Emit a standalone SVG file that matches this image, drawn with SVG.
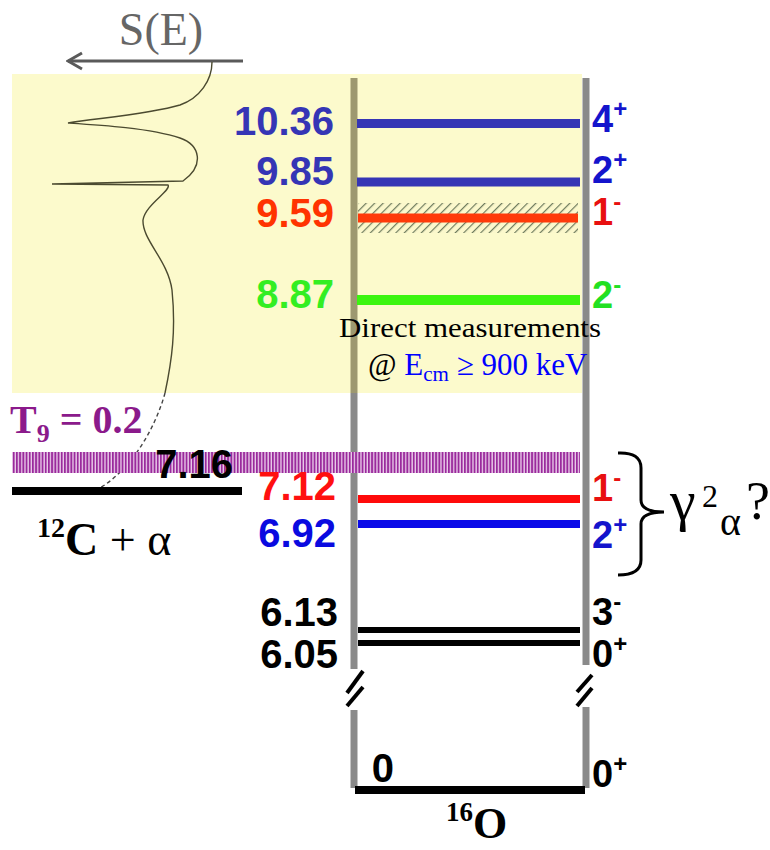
<svg xmlns="http://www.w3.org/2000/svg" width="770" height="850" viewBox="0 0 770 850">
<style>
.num{font-family:"Liberation Sans",Arial,sans-serif;font-weight:bold;font-size:40px;text-anchor:end}
.spin{font-family:"Liberation Sans",Arial,sans-serif;font-weight:bold;font-size:38px}
.sup{font-size:24px}
.serif{font-family:"Liberation Serif","Times New Roman",serif}
.vline{stroke:#8a8a8a;stroke-width:7;fill:none}
.brk{stroke:#000;stroke-width:4;fill:none}
</style>
<defs>
<pattern id="hatch" patternUnits="userSpaceOnUse" width="6" height="6" patternTransform="rotate(45)">
<rect width="6" height="6" fill="#fbf8cc"/>
<line x1="0" y1="0" x2="0" y2="6" stroke="#6f7c5e" stroke-width="2.4"/>
</pattern>
<pattern id="vstripe" patternUnits="userSpaceOnUse" width="3.2" height="10">
<rect width="3.2" height="10" fill="#ecd0ec"/>
<rect width="1.9" height="10" fill="#9a2a9c"/>
</pattern>
<marker id="chev" markerWidth="20" markerHeight="20" refX="18" refY="10" orient="auto" markerUnits="userSpaceOnUse">
<path d="M4,2 L18,10 L4,18" fill="none" stroke="#5a5a5a" stroke-width="3"/>
</marker>
</defs>
<rect width="770" height="850" fill="#fff"/>
<g id="yellow-region">
<rect x="12" y="74" width="570" height="319" fill="#fcfacc"/>
</g>
<g id="se-axis">
<text class="serif" x="161" y="45" font-size="46" fill="#666" text-anchor="middle">S(E)</text>
<line x1="243" y1="61" x2="68" y2="61" stroke="#5a5a5a" stroke-width="3" marker-end="url(#chev)"/>
<path d="M212,62 C212,80 200,98 180,105 C150,114 100,118 68,123 C100,125 150,128 180,138 C200,145 205,165 183,181 L52,184 L168,185 C172,190 145,205 143,220 C142,240 168,260 172,290 C176,330 172,360 165,393" fill="none" stroke="#4b4a30" stroke-width="1.4"/>
<path d="M165,393 C155,430 130,470 100,488" fill="none" stroke="#444" stroke-width="1.4" stroke-dasharray="4,3"/>
</g>
<g id="axes">
<line x1="354" y1="78" x2="354" y2="393" stroke="#9d9870" stroke-width="7"/>
<line class="vline" x1="354" y1="393" x2="354" y2="669"/>
<line class="vline" x1="354" y1="710" x2="354" y2="788"/>
<line class="vline" x1="586" y1="78" x2="586" y2="665"/>
<line class="vline" x1="586" y1="707" x2="586" y2="788"/>
<line class="brk" x1="347" y1="693" x2="363" y2="671"/>
<line class="brk" x1="347" y1="706" x2="363" y2="687"/>
<line class="brk" x1="577" y1="692" x2="592" y2="675"/>
<line class="brk" x1="577" y1="706" x2="592" y2="688"/>
</g>
<g id="level-1036">
<rect x="357" y="119" width="223" height="9" fill="#3535b5"/>
<text class="num" x="334" y="135" fill="#3535b5">10.36</text>
<text class="spin" x="592" y="132" fill="#1414cc">4<tspan class="sup" dy="-15">+</tspan></text>
</g>
<g id="level-985">
<rect x="357" y="177.5" width="223" height="9" fill="#3535b5"/>
<text class="num" x="334" y="185" fill="#3535b5">9.85</text>
<text class="spin" x="592" y="183" fill="#1414cc">2<tspan class="sup" dy="-15">+</tspan></text>
</g>
<g id="level-959">
<rect x="358" y="203" width="220" height="30" fill="url(#hatch)"/>
<rect x="358" y="213.5" width="220" height="9" fill="#ff3a0a"/>
<text class="num" x="334" y="227" fill="#ff3300">9.59</text>
<text class="spin" x="592" y="225" fill="#e81010">1<tspan class="sup" dy="-15">-</tspan></text>
</g>
<g id="level-887">
<rect x="357" y="295" width="223" height="10" fill="#3cf510"/>
<text class="num" x="334" y="308" fill="#33ee22">8.87</text>
<text class="spin" x="592" y="308" fill="#22e022">2<tspan class="sup" dy="-15">-</tspan></text>
</g>
<g id="direct-label">
<text class="serif" x="470" y="337" font-size="28" fill="#000" text-anchor="middle" textLength="262" lengthAdjust="spacingAndGlyphs">Direct measurements</text>
<text class="serif" x="368" y="375" font-size="31" fill="#000">@ <tspan fill="#0000ff">E<tspan font-size="21" dy="6">cm</tspan><tspan dy="-6"> ≥ 900 keV</tspan></tspan></text>
</g>
<g id="t9-band">
<text class="serif" x="10" y="433" font-size="40" font-weight="bold" fill="#8b1a8b">T<tspan font-size="26" dy="9">9</tspan><tspan dy="-9"> = 0.2</tspan></text>
<rect x="12" y="452" width="568" height="21" fill="url(#vstripe)"/>
</g>
<g id="threshold">
<rect x="12" y="487" width="230" height="8" fill="#000"/>
<text class="num" x="233" y="478" fill="#000">7.16</text>
<text class="serif" x="37" y="555" font-size="46" fill="#000"><tspan font-weight="bold" font-size="28" dy="-18">12</tspan><tspan font-weight="bold" dy="18">C</tspan> + α</text>
</g>
<g id="level-712">
<rect x="358" y="495" width="222" height="8" fill="#ff0a0a"/>
<text class="num" x="336" y="500" fill="#ff1010">7.12</text>
<text class="spin" x="592" y="501" fill="#e81010">1<tspan class="sup" dy="-15">-</tspan></text>
</g>
<g id="level-692">
<rect x="358" y="520" width="222" height="8" fill="#0a0ae8"/>
<text class="num" x="336" y="547" fill="#0a0ae0">6.92</text>
<text class="spin" x="592" y="548" fill="#1414cc">2<tspan class="sup" dy="-15">+</tspan></text>
</g>
<g id="gamma-brace">
<path d="M618,453 Q641,452 641,468 L641,500 Q641,512 664,512 Q641,512 641,524 L641,560 Q641,575 618,575" fill="none" stroke="#000" stroke-width="3"/>
<text class="serif" x="670" y="520" font-size="58" fill="#000">γ</text>
<text class="serif" x="702" y="507" font-size="32" fill="#000">2</text>
<text class="serif" x="720" y="535" font-size="40" fill="#000">α</text>
<text class="serif" x="746" y="519" font-size="54" fill="#000">?</text>
</g>
<g id="level-613">
<rect x="358" y="627" width="222" height="6" fill="#000"/>
<text class="num" x="338" y="626" fill="#000" font-size="38">6.13</text>
<text class="spin" x="592" y="625" fill="#000">3<tspan class="sup" dy="-15">-</tspan></text>
</g>
<g id="level-605">
<rect x="358" y="640" width="222" height="6" fill="#000"/>
<text class="num" x="338" y="668" fill="#000" font-size="38">6.05</text>
<text class="spin" x="592" y="667" fill="#000">0<tspan class="sup" dy="-15">+</tspan></text>
</g>
<g id="ground">
<rect x="355" y="786" width="230" height="8" fill="#000"/>
<text class="num" x="394" y="782" fill="#000">0</text>
<text class="spin" x="592" y="787" fill="#000">0<tspan class="sup" dy="-15">+</tspan></text>
<text class="serif" x="446" y="838" font-size="44" font-weight="bold" fill="#000"><tspan font-size="27" dy="-17">16</tspan><tspan dy="17">O</tspan></text>
</g>
</svg>
